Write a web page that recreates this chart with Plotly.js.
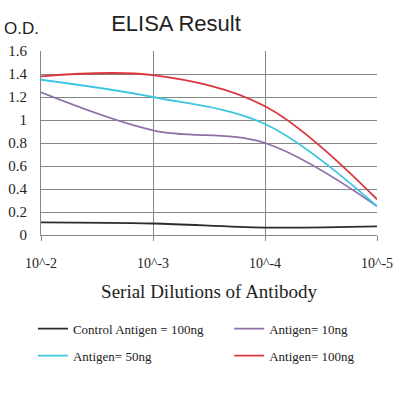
<!DOCTYPE html>
<html><head><meta charset="utf-8">
<script src="https://cdn.plot.ly/plotly-3.0.1.min.js"></script>
<style>html,body{margin:0;padding:0;background:#fff;}#c{width:400px;height:400px;}</style>
</head><body><div id="c"></div>
<script>
const dilutionIndex = [0, 1, 2, 3];
const dilutionLabels = ["10^-2", "10^-3", "10^-4", "10^-5"];
const seriesNames = ["Control Antigen = 100ng", "Antigen= 10ng", "Antigen= 50ng", "Antigen= 100ng"];
const control100 = [0.11, 0.10, 0.065, 0.075];
const antigen10 = [1.24, 0.91, 0.80, 0.25];
const antigen50 = [1.35, 1.20, 0.965, 0.25];
const antigen100 = [1.38, 1.39, 1.12, 0.31];
const colors = ["#2b2b2b", "#8e6fa8", "#3cc6e0", "#d9363e"];
const legendSlots = ["legend", "legend2", "legend", "legend2"];
const allSeries = [control100, antigen10, antigen50, antigen100];

const serif = "Liberation Serif, Times New Roman, serif";
const sans = "Liberation Sans, Arial, sans-serif";
const traces = allSeries.map((ys, i) => ({
  x: dilutionIndex, y: ys, name: seriesNames[i], type: "scatter", mode: "lines",
  legend: legendSlots[i], legendgroup: "g" + i,
  line: {color: colors[i], width: 1.8, shape: "spline", smoothing: 1},
  hoverinfo: "skip"
}));

const legendBase = {
  orientation: "v", yanchor: "top", y: -0.428, xanchor: "left",
  traceorder: "grouped", tracegroupgap: 7, itemwidth: 30,
  font: {family: serif, size: 13, color: "#222"},
  bgcolor: "rgba(0,0,0,0)"
};

const layout = {
  width: 400, height: 400,
  margin: {l: 41, r: 23, t: 51, b: 165, autoexpand: false},
  paper_bgcolor: "#fff", plot_bgcolor: "#fff",
  showlegend: true,
  title: {text: "ELISA Result", x: 0.44, xanchor: "center", y: 0.962, yanchor: "top",
          font: {family: sans, size: 22, color: "#222"}},
  xaxis: {
    range: [0, 3], tickvals: dilutionIndex, ticktext: dilutionLabels,
    showgrid: true, gridcolor: "#858585", gridwidth: 1,
    showline: true, linecolor: "#858585", zeroline: false,
    ticks: "outside", ticklen: 5, tickcolor: "#858585",
    ticklabelstandoff: 10, automargin: false,
    tickfont: {family: serif, size: 14, color: "#222"},
    title: {text: "Serial Dilutions of Antibody", standoff: 14,
            font: {family: serif, size: 19, color: "#222"}}
  },
  yaxis: {
    range: [0, 1.6], dtick: 0.2, tick0: 0,
    showgrid: true, gridcolor: "#858585", gridwidth: 1,
    showline: true, linecolor: "#858585", zeroline: false,
    ticks: "", ticklabelstandoff: 10, automargin: false,
    tickfont: {family: serif, size: 15, color: "#222"}
  },
  legend: Object.assign({}, legendBase, {x: -0.024}),
  legend2: Object.assign({}, legendBase, {x: 0.56}),
  annotations: [{
    text: "O.D.", xref: "paper", yref: "paper", x: -0.115, y: 1.06, xanchor: "left", yanchor: "bottom",
    showarrow: false, font: {family: sans, size: 17, color: "#222"}
  }]
};
Plotly.newPlot("c", traces, layout, {staticPlot: true, displayModeBar: false});
</script></body></html>
